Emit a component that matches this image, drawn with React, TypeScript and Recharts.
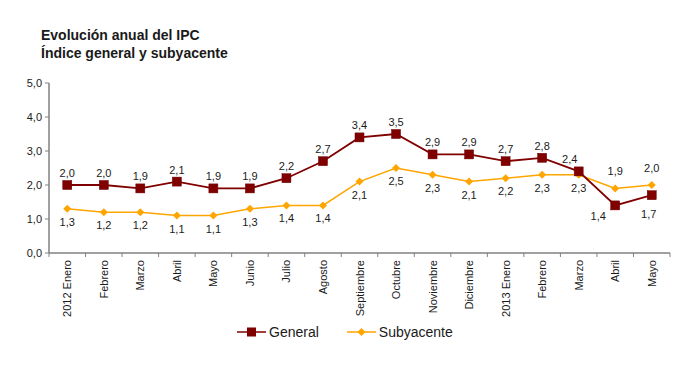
import { LineChart, Line, XAxis, YAxis, LabelList } from "recharts";

const months = [
  "2012 Enero", "Febrero", "Marzo", "Abril", "Mayo", "Junio", "Julio", "Agosto",
  "Septiembre", "Octubre", "Noviembre", "Diciembre", "2013 Enero", "Febrero",
  "Marzo", "Abril", "Mayo",
];
const general = [2.0, 2.0, 1.9, 2.1, 1.9, 1.9, 2.2, 2.7, 3.4, 3.5, 2.9, 2.9, 2.7, 2.8, 2.4, 1.4, 1.7];
const subyacente = [1.3, 1.2, 1.2, 1.1, 1.1, 1.3, 1.4, 1.4, 2.1, 2.5, 2.3, 2.1, 2.2, 2.3, 2.3, 1.9, 2.0];
const yTicks = [0, 1, 2, 3, 4, 5];

const data = months.map((m, i) => ({ idx: i, m, general: general[i], subyacente: subyacente[i] }));

const FONT = '"Liberation Sans", Arial, sans-serif';
const TEXT = "#1a1a1a";
const RED = "#800000";
const ORANGE = "#FFA500";
const AXIS = "#808080";

const W = 680;
const H = 368;
const LEFT = 49;
const RIGHT = 10;
const HALF = (W - LEFT - RIGHT) / months.length / 2;

const fmt = (v: number) => v.toFixed(1).replace(".", ",");

function MonthTick({ x, y, payload, index }: any) {
  const last = index === months.length - 1;
  return (
    <g>
      <line x1={x - HALF} x2={x - HALF} y1={y} y2={y + 4} stroke={AXIS} />
      {last && <line x1={x + HALF} x2={x + HALF} y1={y} y2={y + 4} stroke={AXIS} />}
      <text
        x={x}
        y={y + 7}
        dy={4}
        transform={`rotate(-90, ${x}, ${y + 7})`}
        textAnchor="end"
        fontSize={11}
        fontFamily={FONT}
        fill={TEXT}
      >
        {months[payload.value]}
      </text>
    </g>
  );
}

function Square({ cx, cy }: any) {
  if (cx == null || cy == null) return null;
  return <rect x={cx - 4.5} y={cy - 4.5} width={9} height={9} fill={RED} stroke="#6a0000" strokeWidth={0.5} />;
}

function Diamond({ cx, cy }: any) {
  if (cx == null || cy == null) return null;
  const r = 4;
  return <path d={`M${cx},${cy - r}L${cx + r},${cy}L${cx},${cy + r}L${cx - r},${cy}Z`} fill={ORANGE} />;
}

// label placement: above / below the point, with a few hand-shifted ones
function genLabel({ x, y, value, index }: any) {
  let dx = 0;
  let dy = -8;
  if (index === 14) dx = -9;
  if (index === 15) { dx = -17; dy = 15; }
  if (index === 16) { dx = -3; dy = 23; }
  return (
    <text x={x + dx} y={y + dy} textAnchor="middle" fontSize={11} fontFamily={FONT} fill={TEXT}>
      {fmt(value)}
    </text>
  );
}

function subLabel({ x, y, value, index }: any) {
  let dy = 17;
  if (index === 15 || index === 16) dy = -13;
  return (
    <text x={x} y={y + dy} textAnchor="middle" fontSize={11} fontFamily={FONT} fill={TEXT}>
      {fmt(value)}
    </text>
  );
}

function LegendItem({ color, marker, label }: { color: string; marker: "square" | "diamond"; label: string }) {
  return (
    <div style={{ display: "flex", alignItems: "center" }}>
      <svg width={29} height={12}>
        <line x1={0} x2={29} y1={6} y2={6} stroke={color} strokeWidth={1.5} />
        {marker === "square" ? (
          <rect x={10} y={1.5} width={9} height={9} fill={RED} />
        ) : (
          <path d="M14.5,2L18.5,6L14.5,10L10.5,6Z" fill={ORANGE} />
        )}
      </svg>
      <span style={{ marginLeft: 3, fontSize: 14, color: TEXT }}>{label}</span>
    </div>
  );
}

export default function App() {
  return (
    <div style={{ position: "absolute", left: 0, top: 0, width: W, height: H, background: "#fff", fontFamily: FONT }}>
      <div style={{ position: "absolute", left: 41, top: 26, fontSize: 14, fontWeight: "bold", lineHeight: "18px", color: TEXT }}>
        <div>Evolución anual del IPC</div>
        <div>Índice general y subyacente</div>
      </div>
      <LineChart width={W} height={H} data={data} margin={{ top: 83, right: RIGHT, bottom: 45, left: 0 }}>
        <XAxis
          dataKey="idx"
          type="category"
          interval={0}
          height={70}
          padding={{ left: HALF, right: HALF }}
          tickSize={0}
          tickMargin={0}
          tickLine={false}
          axisLine={{ stroke: AXIS, strokeWidth: 1.5 }}
          tick={<MonthTick />}
        />
        <YAxis
          domain={[0, 5]}
          ticks={yTicks}
          width={LEFT}
          tickSize={4}
          tickMargin={3}
          tickFormatter={fmt}
          axisLine={{ stroke: AXIS, strokeWidth: 1.5 }}
          tickLine={{ stroke: AXIS }}
          tick={{ fontSize: 11, fontFamily: FONT, fill: TEXT }}
        />
        <Line
          type="linear"
          dataKey="subyacente"
          stroke={ORANGE}
          strokeWidth={1.5}
          dot={<Diamond />}
          activeDot={false}
          isAnimationActive={false}
        >
          <LabelList dataKey="subyacente" content={subLabel} />
        </Line>
        <Line
          type="linear"
          dataKey="general"
          stroke={RED}
          strokeWidth={1.8}
          dot={<Square />}
          activeDot={false}
          isAnimationActive={false}
        >
          <LabelList dataKey="general" content={genLabel} />
        </Line>
      </LineChart>
      <div style={{ position: "absolute", left: 237, top: 324, display: "flex", gap: 28 }}>
        <LegendItem color={RED} marker="square" label="General" />
        <LegendItem color={ORANGE} marker="diamond" label="Subyacente" />
      </div>
    </div>
  );
}
